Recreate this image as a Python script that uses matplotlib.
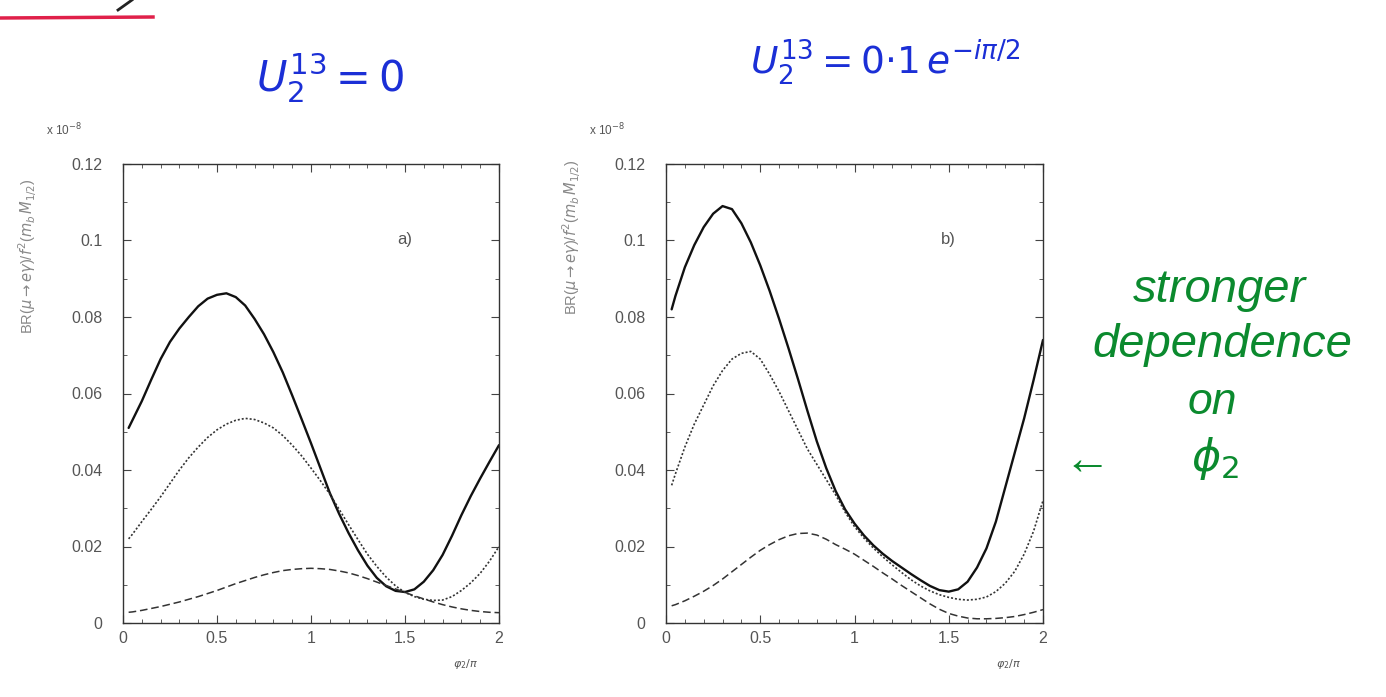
import matplotlib
matplotlib.use("Agg")
import matplotlib.pyplot as plt
from matplotlib.lines import Line2D
from matplotlib.ticker import MultipleLocator

plt.rcParams['font.family'] = ['Liberation Sans', 'DejaVu Sans']
plt.rcParams['mathtext.fontset'] = 'dejavusans'

# ---------------- data (phi_2 / pi, BR in units of 1e-8) ----------------
phi = [0.03, 0.05, 0.10, 0.15, 0.20, 0.25, 0.30, 0.35, 0.40, 0.45, 0.50,
       0.55, 0.60, 0.65, 0.70, 0.75, 0.80, 0.85, 0.90, 0.95, 1.00,
       1.05, 1.10, 1.15, 1.20, 1.25, 1.30, 1.35, 1.40, 1.45, 1.50,
       1.55, 1.60, 1.65, 1.70, 1.75, 1.80, 1.85, 1.90, 1.95, 2.00]

# panel a)  U2^13 = 0
a_solid = [0.051, 0.053, 0.058, 0.0636, 0.069, 0.0735, 0.077, 0.080, 0.0828, 0.0848, 0.0858,
           0.0862, 0.0852, 0.083, 0.0795, 0.0755, 0.0708, 0.0655, 0.0595, 0.0533, 0.047,
           0.0405, 0.034, 0.0285, 0.0235, 0.019, 0.015, 0.0118, 0.0096, 0.0084, 0.0081,
           0.0088, 0.0108, 0.0138, 0.0178, 0.0228, 0.0282, 0.0332, 0.0378, 0.0422, 0.0465]
a_dot = [0.022, 0.0232, 0.0265, 0.0297, 0.033, 0.0365, 0.040, 0.0432, 0.046, 0.0485, 0.0505,
         0.052, 0.053, 0.0535, 0.0532, 0.0523, 0.051, 0.049, 0.0465, 0.0437, 0.0405,
         0.0372, 0.0337, 0.0297, 0.0257, 0.0218, 0.018, 0.0148, 0.012, 0.0097, 0.008,
         0.0069, 0.0062, 0.0059, 0.006, 0.0069, 0.0085, 0.0105, 0.013, 0.0162, 0.020]
a_dash = [0.0028, 0.0029, 0.0033, 0.0038, 0.0043, 0.0049, 0.0055, 0.0062, 0.0069, 0.0077, 0.0085,
          0.0094, 0.0103, 0.0111, 0.0119, 0.0126, 0.0132, 0.0137, 0.014, 0.0142, 0.0143,
          0.0142, 0.014, 0.0136, 0.0131, 0.0124, 0.0116, 0.0107, 0.0098, 0.0089, 0.008,
          0.0071, 0.0063, 0.0055, 0.0048, 0.0042, 0.0037, 0.0033, 0.003, 0.0028, 0.0027]

# panel b)  U2^13 = 0.1 e^{-i pi/2}
b_solid = [0.082, 0.0855, 0.093, 0.0988, 0.1035, 0.107, 0.109, 0.1082, 0.1045, 0.0995, 0.0935,
           0.0868, 0.0795, 0.0718, 0.0638, 0.0555, 0.0475, 0.0405, 0.0345, 0.0297, 0.026,
           0.0229, 0.0203, 0.0181, 0.0162, 0.0145, 0.0128, 0.0112, 0.0097, 0.0086, 0.0082,
           0.0088, 0.0108, 0.0145, 0.0195, 0.0265, 0.0355, 0.0445, 0.0535, 0.0635, 0.074]
b_dot = [0.036, 0.039, 0.046, 0.052, 0.057, 0.062, 0.066, 0.069, 0.0705, 0.071, 0.069,
         0.065, 0.0605, 0.0555, 0.0505, 0.0455, 0.0415, 0.0375, 0.0335, 0.029, 0.0252,
         0.0222, 0.0196, 0.0173, 0.0152, 0.0132, 0.0113, 0.0097, 0.0084, 0.0074, 0.0067,
         0.0062, 0.006, 0.0062, 0.0068, 0.0082, 0.0104, 0.0135, 0.018, 0.024, 0.032]
b_dash = [0.0045, 0.0048, 0.0058, 0.007, 0.0083, 0.0098, 0.0115, 0.0134, 0.0153, 0.0172, 0.019,
          0.0205, 0.0218, 0.0228, 0.0234, 0.0235, 0.023, 0.0219, 0.0205, 0.0193, 0.018,
          0.0164, 0.0148, 0.0131, 0.0115, 0.0098, 0.0082, 0.0066, 0.005, 0.0036, 0.0025,
          0.0018, 0.0013, 0.0011, 0.0011, 0.0012, 0.0014, 0.0017, 0.0022, 0.0028, 0.0035]

xticks = [0, 0.5, 1, 1.5, 2]
xticklabels = ['0', '0.5', '1', '1.5', '2']
yticks = [0, 0.02, 0.04, 0.06, 0.08, 0.1, 0.12]
yticklabels = ['0', '0.02', '0.04', '0.06', '0.08', '0.1', '0.12']
panel_labels = ['a)', 'b)']

W, H = 1386, 697
fig = plt.figure(figsize=(W / 100, H / 100), dpi=100)
fig.patch.set_facecolor('white')

axes_px = [(123, 164, 499, 623), (666, 164, 1043, 623)]
ylabel_pos = [(-0.253, 0.80), (-0.249, 0.84)]
series = [(a_solid, a_dot, a_dash), (b_solid, b_dot, b_dash)]
gray = '#555555'

for (l, t, r, b), (s, d, dd), lab, (lx, ly) in zip(axes_px, series, panel_labels, ylabel_pos):
    ax = fig.add_axes([l / W, 1 - b / H, (r - l) / W, (b - t) / H])
    ax.plot(phi, s, color='#111111', lw=1.7, solid_capstyle='round')
    ax.plot(phi, d, color='#333333', lw=1.2, linestyle=(0, (1.2, 1.2)))
    ax.plot(phi, dd, color='#333333', lw=1.1, linestyle=(0, (5, 2.5)))
    ax.set_xlim(0, 2)
    ax.set_ylim(0, 0.12)
    ax.set_xticks(xticks)
    ax.set_xticklabels(xticklabels)
    ax.set_yticks(yticks)
    ax.set_yticklabels(yticklabels)
    ax.xaxis.set_minor_locator(MultipleLocator(0.1))
    ax.yaxis.set_minor_locator(MultipleLocator(0.01))
    ax.tick_params(which='both', direction='in', top=True, right=True,
                   colors='#444444', labelcolor=gray, labelsize=11.5)
    ax.tick_params(which='major', length=6, width=0.8)
    ax.tick_params(which='minor', length=3, width=0.6)
    for sp in ax.spines.values():
        sp.set_color('#333333')
        sp.set_linewidth(1.0)
    ax.tick_params(axis='x', pad=6)
    ax.tick_params(axis='y', pad=15)
    ax.text(0.73, 0.835, lab, transform=ax.transAxes, fontsize=12,
            color=gray, ha='left', va='center')
    ax.text(-0.205, 1.075, r'x 10$^{-8}$', transform=ax.transAxes, fontsize=8.5,
            color=gray, ha='left', va='center')
    ax.text(0.91, -0.09, r'$\varphi_2/\pi$', transform=ax.transAxes, fontsize=8,
            color=gray, ha='center', va='center')
    ax.text(lx, ly, r'BR($\mu\rightarrow e\gamma$)/$f^2$($m_b\,M_{1/2}$)',
            transform=ax.transAxes, fontsize=10.5, color='#888888', rotation=90,
            ha='center', va='center')

# ---------------- handwritten annotations ----------------
blue = '#1b2fd6'
green = '#0b8a2e'
fig.text(330 / W, 1 - 78 / H, r'$U_2^{13} = 0$', fontsize=30, color=blue,
         ha='center', va='center')
fig.text(885 / W, 1 - 62 / H, r'$U_2^{13} = 0{\cdot}1\,e^{-i\pi/2}$', fontsize=27,
         color=blue, ha='center', va='center')

fig.text(1220 / W, 1 - 290 / H, 'stronger', fontsize=34, color=green,
         ha='center', va='center', style='italic')
fig.text(1222 / W, 1 - 345 / H, 'dependence', fontsize=34, color=green,
         ha='center', va='center', style='italic')
fig.text(1212 / W, 1 - 402 / H, 'on', fontsize=32, color=green,
         ha='center', va='center', style='italic')
fig.text(1215 / W, 1 - 458 / H, r'$\phi_2$', fontsize=32, color=green,
         ha='center', va='center')
fig.text(1087 / W, 1 - 462 / H, '\u2190', fontsize=34, color=green,
         ha='center', va='center')

# red underline in top-left corner
fig.add_artist(Line2D([0, 153 / W], [1 - 18 / H, 1 - 17 / H], transform=fig.transFigure,
                      color='#e0204a', lw=2.5))
fig.add_artist(Line2D([118 / W, 132 / W], [1 - 10 / H, 1 - 0 / H], transform=fig.transFigure,
                      color='#222222', lw=2))

fig.savefig('out.png', dpi=100, facecolor='white')
